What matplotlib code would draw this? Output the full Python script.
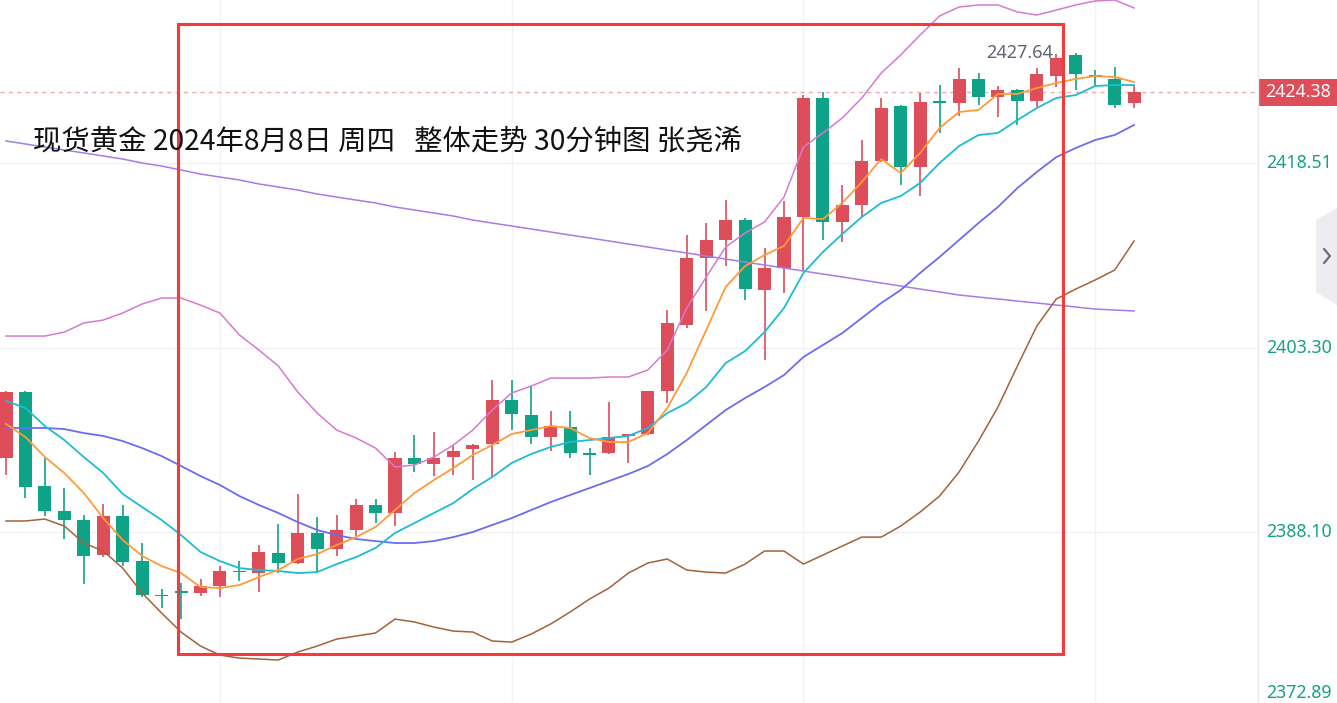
import matplotlib
matplotlib.use('Agg')
import matplotlib.pyplot as plt
import numpy as np
from matplotlib.patches import Rectangle, Polygon
from matplotlib.lines import Line2D

# ---------------- data (30-minute candles, spot gold) ----------------
opens = [2394.15, 2399.6, 2391.9, 2389.8, 2389.1, 2386.2, 2389.4, 2385.7, 2382.85, 2383.15,
         2383.0, 2383.6, 2384.85, 2384.7, 2386.3, 2385.5, 2388.0, 2386.7, 2388.2, 2390.3,
         2389.6, 2394.2, 2393.7, 2394.3, 2394.9, 2395.3, 2399.0, 2397.7, 2395.9, 2396.7,
         2394.55, 2394.6, 2396.0, 2396.2, 2399.7, 2405.2, 2410.7, 2412.2, 2413.8, 2408.05,
         2409.9, 2414.1, 2423.9, 2413.7, 2415.1, 2418.7, 2423.25, 2418.2, 2423.6, 2423.5,
         2425.5, 2424.0, 2424.6, 2423.7, 2425.7, 2427.45, 2425.75, 2425.5, 2423.5]
highs = [2399.7, 2399.7, 2394.2, 2391.7, 2389.5, 2390.4, 2390.3, 2387.2, 2383.4, 2383.9,
         2384.2, 2385.3, 2385.7, 2387.0, 2388.7, 2391.2, 2389.3, 2389.5, 2390.8, 2390.8,
         2394.65, 2396.1, 2396.35, 2395.2, 2395.3, 2400.6, 2400.6, 2400.1, 2398.1, 2398.1,
         2395.0, 2398.8, 2396.2, 2399.75, 2406.4, 2412.6, 2413.6, 2415.5, 2414.0, 2411.5,
         2415.4, 2424.15, 2424.4, 2416.7, 2420.4, 2423.9, 2423.3, 2424.3, 2425.0, 2426.4,
         2425.95, 2424.9, 2424.65, 2426.4, 2427.5, 2427.64, 2426.2, 2426.5, 2425.0]
lows = [2392.8, 2390.9, 2389.4, 2387.5, 2383.8, 2386.0, 2385.3, 2382.7, 2381.8, 2380.9,
        2382.8, 2382.7, 2384.0, 2383.1, 2384.7, 2385.4, 2384.8, 2386.1, 2387.7, 2388.8,
        2388.6, 2393.05, 2392.7, 2392.8, 2392.4, 2392.6, 2396.5, 2395.3, 2394.8, 2394.15,
        2392.8, 2394.5, 2393.8, 2396.1, 2398.75, 2404.9, 2406.3, 2410.0, 2407.2, 2402.3,
        2407.8, 2409.6, 2412.2, 2412.0, 2414.1, 2418.6, 2416.7, 2415.8, 2421.0, 2422.4,
        2423.3, 2422.3, 2421.7, 2423.2, 2424.8, 2424.6, 2424.9, 2423.1, 2423.1]
closes = [2399.6, 2391.8, 2389.8, 2389.1, 2386.1, 2389.4, 2385.6, 2382.9, 2382.8, 2383.1,
          2383.6, 2384.85, 2384.8, 2386.4, 2385.5, 2388.0, 2386.7, 2388.2, 2390.3, 2389.6,
          2394.2, 2393.7, 2394.2, 2394.75, 2395.25, 2399.0, 2397.8, 2395.9, 2396.8, 2394.6,
          2394.5, 2395.9, 2396.15, 2399.7, 2405.3, 2410.7, 2412.2, 2413.8, 2408.1, 2409.9,
          2414.1, 2423.9, 2413.7, 2415.1, 2418.7, 2423.1, 2418.2, 2423.6, 2423.55, 2425.5,
          2424.0, 2424.6, 2423.7, 2425.9, 2427.2, 2425.9, 2425.7, 2423.3, 2424.38]

ma5 = [2396.99, 2395.91, 2394.26, 2392.94, 2391.29, 2389.22, 2387.41, 2386.09, 2385.26, 2384.68,
       2383.53, 2383.44, 2383.69, 2384.35, 2384.93, 2385.84, 2386.25, 2386.99, 2387.65, 2388.48,
       2389.88, 2391.29, 2392.36, 2393.35, 2394.43, 2395.25, 2396.16, 2396.49, 2396.82, 2396.66,
       2395.83, 2395.50, 2395.50, 2396.24, 2398.31, 2401.20, 2404.75, 2408.30, 2410.03, 2410.94,
       2411.69, 2414.00, 2413.91, 2415.24, 2416.97, 2418.87, 2417.71, 2419.37, 2421.43, 2422.75,
       2422.92, 2424.24, 2424.24, 2424.73, 2425.15, 2425.48, 2425.72, 2425.64, 2425.23]
ma10 = [2398.89, 2398.31, 2396.82, 2395.66, 2394.26, 2392.94, 2391.21, 2390.13, 2389.06, 2387.82,
        2386.42, 2385.67, 2385.09, 2384.93, 2384.85, 2384.68, 2384.76, 2385.42, 2386.00, 2386.75,
        2387.99, 2388.81, 2389.64, 2390.46, 2391.62, 2392.61, 2393.77, 2394.51, 2395.09, 2395.50,
        2395.66, 2395.83, 2396.00, 2396.66, 2397.89, 2398.72, 2400.04, 2402.02, 2403.01, 2404.58,
        2406.57, 2409.46, 2411.19, 2412.68, 2414.08, 2415.24, 2415.81, 2416.89, 2418.54, 2419.94,
        2420.85, 2421.02, 2422.09, 2423.08, 2423.91, 2424.15, 2424.90, 2424.98, 2424.98]
ma20 = [2396.66, 2396.66, 2396.66, 2396.57, 2396.24, 2396.00, 2395.58, 2395.00, 2394.34, 2393.52,
        2392.69, 2391.95, 2391.04, 2390.30, 2389.64, 2388.89, 2388.23, 2387.82, 2387.49, 2387.32,
        2387.16, 2387.16, 2387.32, 2387.65, 2388.07, 2388.65, 2389.22, 2389.88, 2390.54, 2391.12,
        2391.70, 2392.28, 2392.86, 2393.52, 2394.51, 2395.66, 2396.90, 2398.14, 2399.13, 2400.04,
        2401.03, 2402.52, 2403.51, 2404.50, 2405.74, 2406.98, 2408.05, 2409.46, 2410.78, 2412.18,
        2413.58, 2414.91, 2416.47, 2417.80, 2419.03, 2419.78, 2420.44, 2420.85, 2421.68]
ma_long = [2420.36, 2420.11, 2419.86, 2419.61, 2419.37, 2419.12, 2418.87, 2418.54, 2418.29, 2417.96,
           2417.63, 2417.38, 2417.14, 2416.81, 2416.56, 2416.31, 2415.98, 2415.73, 2415.48, 2415.24,
           2414.91, 2414.66, 2414.41, 2414.16, 2413.83, 2413.58, 2413.34, 2413.09, 2412.84, 2412.59,
           2412.35, 2412.10, 2411.85, 2411.60, 2411.35, 2411.11, 2410.86, 2410.61, 2410.36, 2410.12,
           2409.87, 2409.62, 2409.37, 2409.13, 2408.88, 2408.63, 2408.38, 2408.13, 2407.89, 2407.64,
           2407.47, 2407.31, 2407.14, 2406.98, 2406.81, 2406.65, 2406.48, 2406.40, 2406.32]
boll_up = [2404.25, 2404.25, 2404.25, 2404.58, 2405.33, 2405.57, 2406.15, 2406.90, 2407.39, 2407.39,
           2406.81, 2406.15, 2404.34, 2403.10, 2401.78, 2399.63, 2397.89, 2396.49, 2395.83, 2395.00,
           2393.44, 2393.60, 2394.26, 2395.25, 2396.49, 2398.14, 2399.55, 2400.12, 2400.78, 2400.78,
           2400.78, 2400.87, 2400.87, 2401.45, 2403.10, 2406.57, 2409.13, 2411.60, 2412.76, 2413.67,
           2415.73, 2419.86, 2421.02, 2422.26, 2423.91, 2425.97, 2427.46, 2429.11, 2430.68, 2431.42,
           2431.59, 2431.59, 2431.01, 2430.76, 2431.17, 2431.59, 2431.92, 2432.00, 2431.34]
boll_dn = [2388.98, 2388.98, 2389.14, 2388.56, 2387.16, 2386.50, 2385.09, 2383.03, 2381.38, 2379.81,
           2378.65, 2377.91, 2377.66, 2377.58, 2377.50, 2378.16, 2378.65, 2379.23, 2379.48, 2379.73,
           2380.88, 2380.64, 2380.22, 2379.89, 2379.81, 2379.07, 2378.98, 2379.64, 2380.47, 2381.46,
           2382.53, 2383.44, 2384.68, 2385.51, 2385.84, 2384.93, 2384.76, 2384.68, 2385.42, 2386.50,
           2386.50, 2385.42, 2386.17, 2386.91, 2387.65, 2387.65, 2388.56, 2389.72, 2391.04, 2393.02,
           2395.58, 2398.39, 2401.78, 2405.08, 2407.31, 2408.13, 2408.88, 2409.70, 2412.10]

price_ticks = [2418.51, 2403.30, 2388.10, 2372.89]
time_grid = [11, 26, 41, 56]
title = "现货黄金 2024年8月8日 周四   整体走势 30分钟图 张尧浠"
high_label = "2427.64"

# ---------------- figure ----------------
W, H = 1337, 703
fig = plt.figure(figsize=(W / 100, H / 100), dpi=100)
fig.patch.set_facecolor('white')
plot_w = 1258
ax = fig.add_axes([0, 0, plot_w / W, 1])
ax.set_facecolor('white')
for s in ax.spines.values():
    s.set_visible(False)
ax.set_xticks([])
ax.set_yticks([])

n = len(closes)
idx = np.arange(n)
spacing = 19.45
x0 = -6 / spacing
ax.set_xlim(x0, x0 + plot_w / spacing)
ax.set_ylim(2373.95, 2432.0)

RED = '#de4d5a'
GREEN = '#0ea386'
AXGREEN = '#17a085'

# grid
for t in price_ticks:
    ax.axhline(t, color='#f0f1f4', lw=1.0, zorder=0)
for g in time_grid:
    ax.axvline(g, color='#f2f3f6', lw=1.0, zorder=0)

# current price dashed line
ax.axhline(closes[-1], color='#f2a9a9', lw=1.0, ls=(0, (3, 3)), zorder=1)

# candles
bw = 0.67
for i in idx:
    o, h, l, c = opens[i], highs[i], lows[i], closes[i]
    col = RED if c >= o else GREEN
    ax.vlines(i, l, h, color=col, lw=1.2, zorder=2)
    body = abs(c - o)
    if body < 0.13:
        mid = (o + c) / 2
        ax.add_patch(Rectangle((i - bw / 2, mid - 0.065), bw, 0.13, facecolor=col,
                               edgecolor='none', zorder=2))
    else:
        ax.add_patch(Rectangle((i - bw / 2, min(o, c)), bw, body, facecolor=col,
                               edgecolor='none', zorder=2))

# indicator lines
ax.plot(idx, ma_long, color='#a67ce6', lw=1.1, zorder=3)
ax.plot(idx, boll_up, color='#d57ad0', lw=1.1, zorder=3)
ax.plot(idx, boll_dn, color='#a4613a', lw=1.1, zorder=3)
ax.plot(idx, ma20, color='#6c6cf0', lw=1.3, zorder=3)
ax.plot(idx, ma10, color='#1cbcd4', lw=1.3, zorder=3)
ax.plot(idx, ma5, color='#ff9a3a', lw=1.3, zorder=3)

# highest price label
hi_i = int(np.argmax(highs))
ax.text(hi_i - 1.15, highs[hi_i], high_label, ha='right', va='center', fontsize=13,
        color='#5f6470', family=['Noto Sans', 'DejaVu Sans'], zorder=4)

# red highlight rectangle
ax.add_patch(Rectangle((8.83, 2377.99), 54.37 - 8.83, 2430.04 - 2377.99, fill=False,
                       edgecolor='#f53a3a', lw=2.2, zorder=6))

# title
fig.text(33 / W, 1 - 142 / H, title, fontsize=20.4, color='#111111', ha='left', va='center',
         family=['Noto Sans CJK SC', 'DejaVu Sans'], zorder=7)

# right price axis
fig.add_artist(Line2D([plot_w / W, plot_w / W], [0, 1], color='#e8e9ee', lw=1.0))
fig.canvas.draw()
for t in price_ticks:
    yd = ax.transData.transform((0, t))[1]
    yd = max(yd, 10.5)
    fig.text(1266 / W, yd / H, f'{t:.2f}', fontsize=12.8, color=AXGREEN, ha='left',
             va='center', family=['Noto Sans', 'DejaVu Sans'])

# current price tag
yc = ax.transData.transform((0, closes[-1]))[1]
fig.add_artist(Rectangle((1259 / W, (yc - 13.3) / H), (W - 1259) / W, 26.6 / H,
                         transform=fig.transFigure, facecolor=RED, edgecolor='none'))
fig.text(1265 / W, yc / H, f'{closes[-1]:.2f}', fontsize=12.8, color='white', ha='left',
         va='center', family=['Noto Sans', 'DejaVu Sans'])

# side tab
tab = [(1316, 220), (1337, 208), (1337, 305), (1316, 292)]
fig.add_artist(Polygon([(x / W, (H - y) / H) for x, y in tab], closed=True,
                       transform=fig.transFigure, facecolor='#ececf1', edgecolor='none'))
fig.add_artist(Line2D([1324 / W, 1330 / W, 1324 / W],
                      [(H - 249) / H, (H - 256) / H, (H - 263) / H],
                      color='#6b6e7a', lw=1.6, solid_capstyle='round'))

fig.savefig('out.png', dpi=100, facecolor='white')
